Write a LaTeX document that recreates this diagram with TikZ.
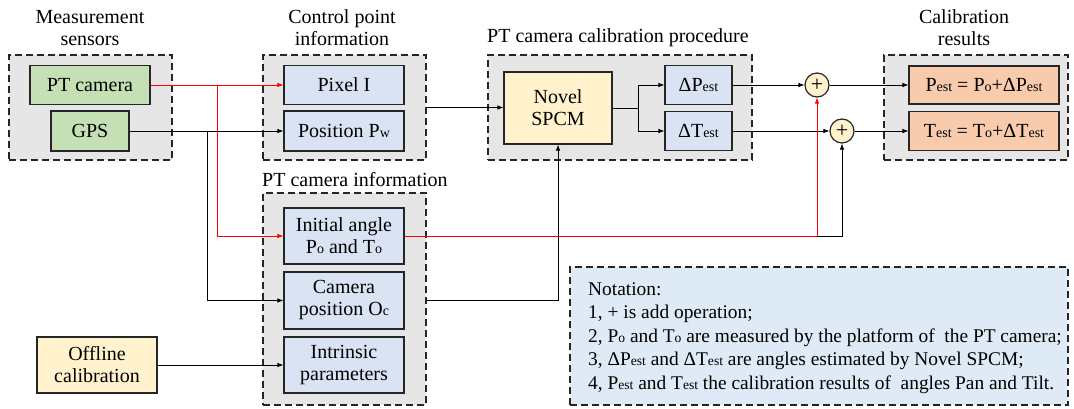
\documentclass[tikz,border=0pt]{standalone}
\usepackage{fontspec}
\setmainfont{Liberation Serif}
\usepackage{graphicx}
\usetikzlibrary{arrows.meta}

% small baseline letters used as index marks (P_o, P_est, ...)
\newcommand\lo[1]{\scalebox{0.7}{#1}}

\definecolor{grpfill}{HTML}{E6E6E6}
\definecolor{sensorfill}{HTML}{C5E0B4}
\definecolor{infofill}{HTML}{DAE3F3}
\definecolor{procfill}{HTML}{FFF2CC}
\definecolor{resfill}{HTML}{F8CBAD}
\definecolor{notefill}{HTML}{DEEBF7}

\tikzset{
  grp/.style={draw=black!85, fill=grpfill, dash pattern=on 7pt off 4pt,
    line width=1.3pt, inner sep=0pt},
  blk/.style={draw=black!85, line width=1.2pt, align=center, inner sep=0pt,
    font=\fontsize{20}{22}\selectfont},
  ttl/.style={align=center, inner sep=0pt, font=\fontsize{20}{22}\selectfont},
  adder/.style={circle, draw=black!85, fill=procfill, line width=1.2pt,
    minimum size=24pt, inner sep=0pt, font=\fontsize{22}{22}\selectfont},
  arr/.style={-{Latex[length=6pt,width=4.5pt]}, line width=0.75pt},
}

\begin{document}
\begin{tikzpicture}[x=1pt,y=-1pt]
\useasboundingbox (0,0) rectangle (1074,409);

% ---- group frames ----
\node[grp, minimum width=163pt, minimum height=105pt] (gMeas) at (90.5,107.5) {};
\node[grp, minimum width=163pt, minimum height=105pt] (gCtrl) at (344.5,107.5) {};
\node[grp, minimum width=163pt, minimum height=212pt] (gInfo) at (344.5,299) {};
\node[grp, minimum width=264pt, minimum height=105pt] (gProc) at (620,107.5) {};
\node[grp, minimum width=184pt, minimum height=105pt] (gRes) at (976,107.5) {};
\node[grp, fill=notefill, minimum width=498pt, minimum height=138pt] (note) at (819,336) {};

% ---- group titles ----
\node[ttl] (tMeas) at (90,28) {Measurement\\sensors};
\node[ttl] (tCtrl) at (342,28) {Control point\\information};
\node[ttl, anchor=west] (tProc) at (487,38) {PT camera calibration procedure};
\node[ttl] (tRes) at (964,28) {Calibration\\results};
\node[ttl, anchor=west] (tInfo) at (262,180) {PT camera information};

% ---- measurement sensors ----
\node[blk, fill=sensorfill, minimum width=120pt, minimum height=39pt] (cam) at (90,85) {PT camera};
\node[blk, fill=sensorfill, minimum width=78pt, minimum height=40pt] (gps) at (90,131) {GPS};

% ---- control point information ----
\node[blk, fill=infofill, minimum width=120pt, minimum height=39pt] (pix) at (344,85) {Pixel I};
\node[blk, fill=infofill, minimum width=120pt, minimum height=40pt] (pos) at (344,131) {Position P\lo{w}};

% ---- PT camera information ----
\node[blk, fill=infofill, minimum width=120pt, minimum height=56pt] (init) at (344,236) {Initial angle\\P\lo{o} and T\lo{o}};
\node[blk, fill=infofill, minimum width=120pt, minimum height=57pt] (cpos) at (344,300.5) {Camera\\position O\lo{c}};
\node[blk, fill=infofill, minimum width=120pt, minimum height=56pt] (intr) at (344,365) {Intrinsic\\parameters};

\node[blk, fill=procfill, minimum width=120pt, minimum height=56pt] (off) at (97,365) {Offline\\calibration};

% ---- calibration procedure ----
\node[blk, fill=procfill, minimum width=108pt, minimum height=72pt] (spcm) at (558,108) {Novel\\SPCM};
\node[blk, fill=infofill, minimum width=67pt, minimum height=39pt] (dP) at (698.5,85) {ΔP\lo{est}};
\node[blk, fill=infofill, minimum width=67pt, minimum height=39pt] (dT) at (698.5,131) {ΔT\lo{est}};

% ---- adders ----
\node[adder] (addP) at (817,85) {+};
\node[adder] (addT) at (842,131) {+};

% ---- calibration results ----
\node[blk, fill=resfill, minimum width=150pt, minimum height=38pt] (rP) at (984,85) {P\lo{est} = P\lo{o}+ΔP\lo{est}};
\node[blk, fill=resfill, minimum width=150pt, minimum height=39pt] (rT) at (984,131) {T\lo{est} = T\lo{o}+ΔT\lo{est}};

% ---- notation ----
\node[anchor=north west, align=left, inner sep=0pt, font=\fontsize{19.4}{23.5}\selectfont] (noteText) at (588,282)
  {Notation:\\
   1, + is add operation;\\
   2, P\lo{o} and T\lo{o} are measured by the platform of~ the PT camera;\\
   3, ΔP\lo{est} and ΔT\lo{est} are angles estimated by Novel SPCM;\\
   4, P\lo{est} and T\lo{est} the calibration results of~ angles Pan and Tilt.};

% ---- junction columns ----
\coordinate (jRed) at (217,0);
\coordinate (jGps) at (207,0);
\coordinate (jSp) at (638,0);

% ---- connectors ----
\draw[arr, red] (cam.east) -- (pix.west);
\draw[arr, red] (cam.east -| jRed) |- (init.west);
\draw[arr] (gps.east) -- (pos.west);
\draw[arr] (gps.east -| jGps) |- (cpos.west);
\draw[arr] (off.east) -- (intr.west);

\draw[arr] (gCtrl.east) -- (gCtrl.east -| spcm.west);
\draw[arr] (cpos.east -| gInfo.east) -| (spcm.south);

\draw[line width=0.75pt] (spcm.east) -- (spcm.east -| jSp);
\draw[arr] (spcm.east -| jSp) |- (dP.west);
\draw[arr] (spcm.east -| jSp) |- (dT.west);

\draw[arr] (dP.east) -- (addP.west);
\draw[arr] (dT.east) -- (addT.west);
\draw[arr] (addP.east) -- (rP.west);
\draw[arr] (addT.east) -- (rT.west);

\draw[arr, red] (init.east) -| (addP.south);
\draw[arr] (init.east -| addP.south) -| (addT.south);
\end{tikzpicture}
\end{document}
